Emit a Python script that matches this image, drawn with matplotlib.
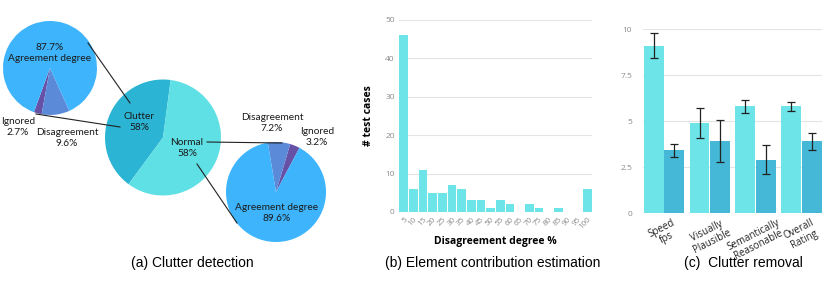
import matplotlib
matplotlib.use('Agg')
import matplotlib.pyplot as plt
import numpy as np

# (a) clutter detection pies
main_labels = ["Clutter\n58%", "Normal\n58%"]
main_share = [42, 58]
clutter_parts = ["Ignored", "Disagreement", "Agreement degree"]
clutter_pct = [2.7, 9.6, 87.7]
normal_parts = ["Ignored", "Disagreement", "Agreement degree"]
normal_pct = [3.2, 7.2, 89.6]

# (b) element contribution histogram
degree_ticks = [str(v) for v in range(5, 101, 5)]
test_cases = [46, 6, 11, 5, 5, 7, 6, 3, 3, 1, 3, 2, 0, 2, 1, 0, 1, 0, 0, 6]

# (c) clutter removal
removal_cats = ["Speed\nfps", "Visually\nPlausible", "Semantically\nReasonable", "Overall\nRating"]
ours_mean = [9.1, 4.9, 5.8, 5.8]
ours_err = [0.7, 0.8, 0.35, 0.23]
base_mean = [3.4, 3.9, 2.9, 3.9]
base_err = [0.35, 1.15, 0.8, 0.45]

W, H = 830, 282
fig = plt.figure(figsize=(W / 100, H / 100), dpi=100)

c_main = ["#2bb4d3", "#5fe0e5"]
c_sub = ["#6651a6", "#5b8ad9", "#3db4fc"]
cyan = "#6ce4e8"
teal = "#44b8d6"
grid = "#e4e4e4"
tick_c = "#8a8a8a"


def Y(y):
    return H - y


# ---- panel a, drawn in pixel coordinates
ax0 = fig.add_axes([0, 0, 1, 1])
ax0.pie(main_share, colors=c_main, startangle=82.4, center=(163, Y(137.5)),
        radius=58, frame=True, wedgeprops=dict(linewidth=0))
ax0.pie(clutter_pct, colors=c_sub, startangle=250, center=(50, Y(68)),
        radius=47, frame=True, wedgeprops=dict(linewidth=0))
ax0.pie(normal_pct, colors=c_sub, startangle=62, center=(276, Y(192)),
        radius=50, frame=True, wedgeprops=dict(linewidth=0))

lk = dict(color="#222222", lw=0.8, zorder=5)
ax0.plot([88, 130], [Y(43), Y(103)], **lk)
ax0.plot([36, 120], [Y(114), Y(127)], **lk)
ax0.plot([207, 282], [Y(142), Y(143)], **lk)
ax0.plot([197, 237], [Y(164), Y(223)], **lk)

tk = dict(ha="center", va="center", fontsize=7.3, family="Lato", color="#1a1a1a", zorder=6,
          linespacing=1.15)
ax0.text(139, Y(122), main_labels[0], **tk)
ax0.text(187, Y(148), main_labels[1], **tk)
ax0.text(50, Y(53), f"{clutter_pct[2]}%\n{clutter_parts[2]}", **tk)
ax0.text(18, Y(127), f"{clutter_parts[0]}\n{clutter_pct[0]}%", **tk)
ax0.text(67, Y(138), f"{clutter_parts[1]}\n{clutter_pct[1]}%", **tk)
ax0.text(272, Y(123), f"{normal_parts[1]}\n{normal_pct[1]}%", **tk)
ax0.text(317, Y(137), f"{normal_parts[0]}\n{normal_pct[0]}%", **tk)
ax0.text(277, Y(213), f"{normal_parts[2]}\n{normal_pct[2]}%", **tk)

ax0.set_xlim(0, W)
ax0.set_ylim(0, H)
ax0.set_aspect('auto')
ax0.axis('off')

cap = dict(ha="center", va="center", fontsize=10, family="Liberation Sans", color="black")
fig.text(192 / W, 1 - 263 / H, "(a) Clutter detection", **cap)
fig.text(493 / W, 1 - 263 / H, "(b) Element contribution estimation", **cap)
fig.text(743 / W, 1 - 263 / H, "(c)  Clutter removal", **cap)

# ---- panel b
ax1 = fig.add_axes([399 / W, 1 - 212 / H, (592 - 399) / W, (212 - 20) / H])
x = np.arange(len(test_cases))
ax1.bar(x, test_cases, width=0.9, color=cyan, zorder=3)
ax1.set_xlim(-0.5, len(test_cases) - 0.5)
ax1.set_ylim(0, 50)
ax1.set_yticks([0, 10, 20, 30, 40, 50])
ax1.set_xticks(x)
ax1.set_xticklabels(degree_ticks, rotation=45, ha="right", va="top",
                    rotation_mode="anchor", fontsize=5.8, color=tick_c, family="Open Sans")
for t in ax1.get_yticklabels():
    t.set_fontsize(6)
    t.set_color(tick_c)
    t.set_family("Open Sans")
ax1.tick_params(length=0, pad=3)
ax1.grid(axis="y", color=grid, lw=0.8, zorder=0)
for s in ax1.spines.values():
    s.set_visible(False)
ax1.set_ylabel("# test cases", fontsize=7.5, fontweight="bold", family="Open Sans", labelpad=8)
ax1.set_xlabel("Disagreement degree %", fontsize=7.5, fontweight="bold", family="Open Sans",
               labelpad=4)

# ---- panel c
ax2 = fig.add_axes([643 / W, 1 - 213 / H, (822 - 643) / W, (213 - 29) / H])
g = np.arange(len(removal_cats))
bw = 0.435
ax2.bar(g - 0.225, ours_mean, width=bw, color=cyan, zorder=3,
        yerr=ours_err, capsize=3, error_kw=dict(ecolor="#222222", elinewidth=0.9, capthick=0.9))
ax2.bar(g + 0.225, base_mean, width=bw, color=teal, zorder=3,
        yerr=base_err, capsize=3, error_kw=dict(ecolor="#222222", elinewidth=0.9, capthick=0.9))
ax2.set_xlim(-0.46, 3.45)
ax2.set_ylim(0, 10)
ax2.set_yticks([0, 2.5, 5, 7.5, 10])
ax2.set_yticklabels(["0", "2.5", "5", "7.5", "10"], fontsize=6, color=tick_c, family="Open Sans")
ax2.set_xticks(g)
ax2.set_xticklabels(removal_cats, rotation=27, ha="center", va="top", fontsize=7,
                    color="#222222", family="Open Sans", linespacing=1.0)
ax2.tick_params(length=0, pad=3)
ax2.tick_params(axis="y", pad=8)
ax2.grid(axis="y", color=grid, lw=0.8, zorder=0)
for s in ax2.spines.values():
    s.set_visible(False)

fig.savefig("out.png", dpi=100)
